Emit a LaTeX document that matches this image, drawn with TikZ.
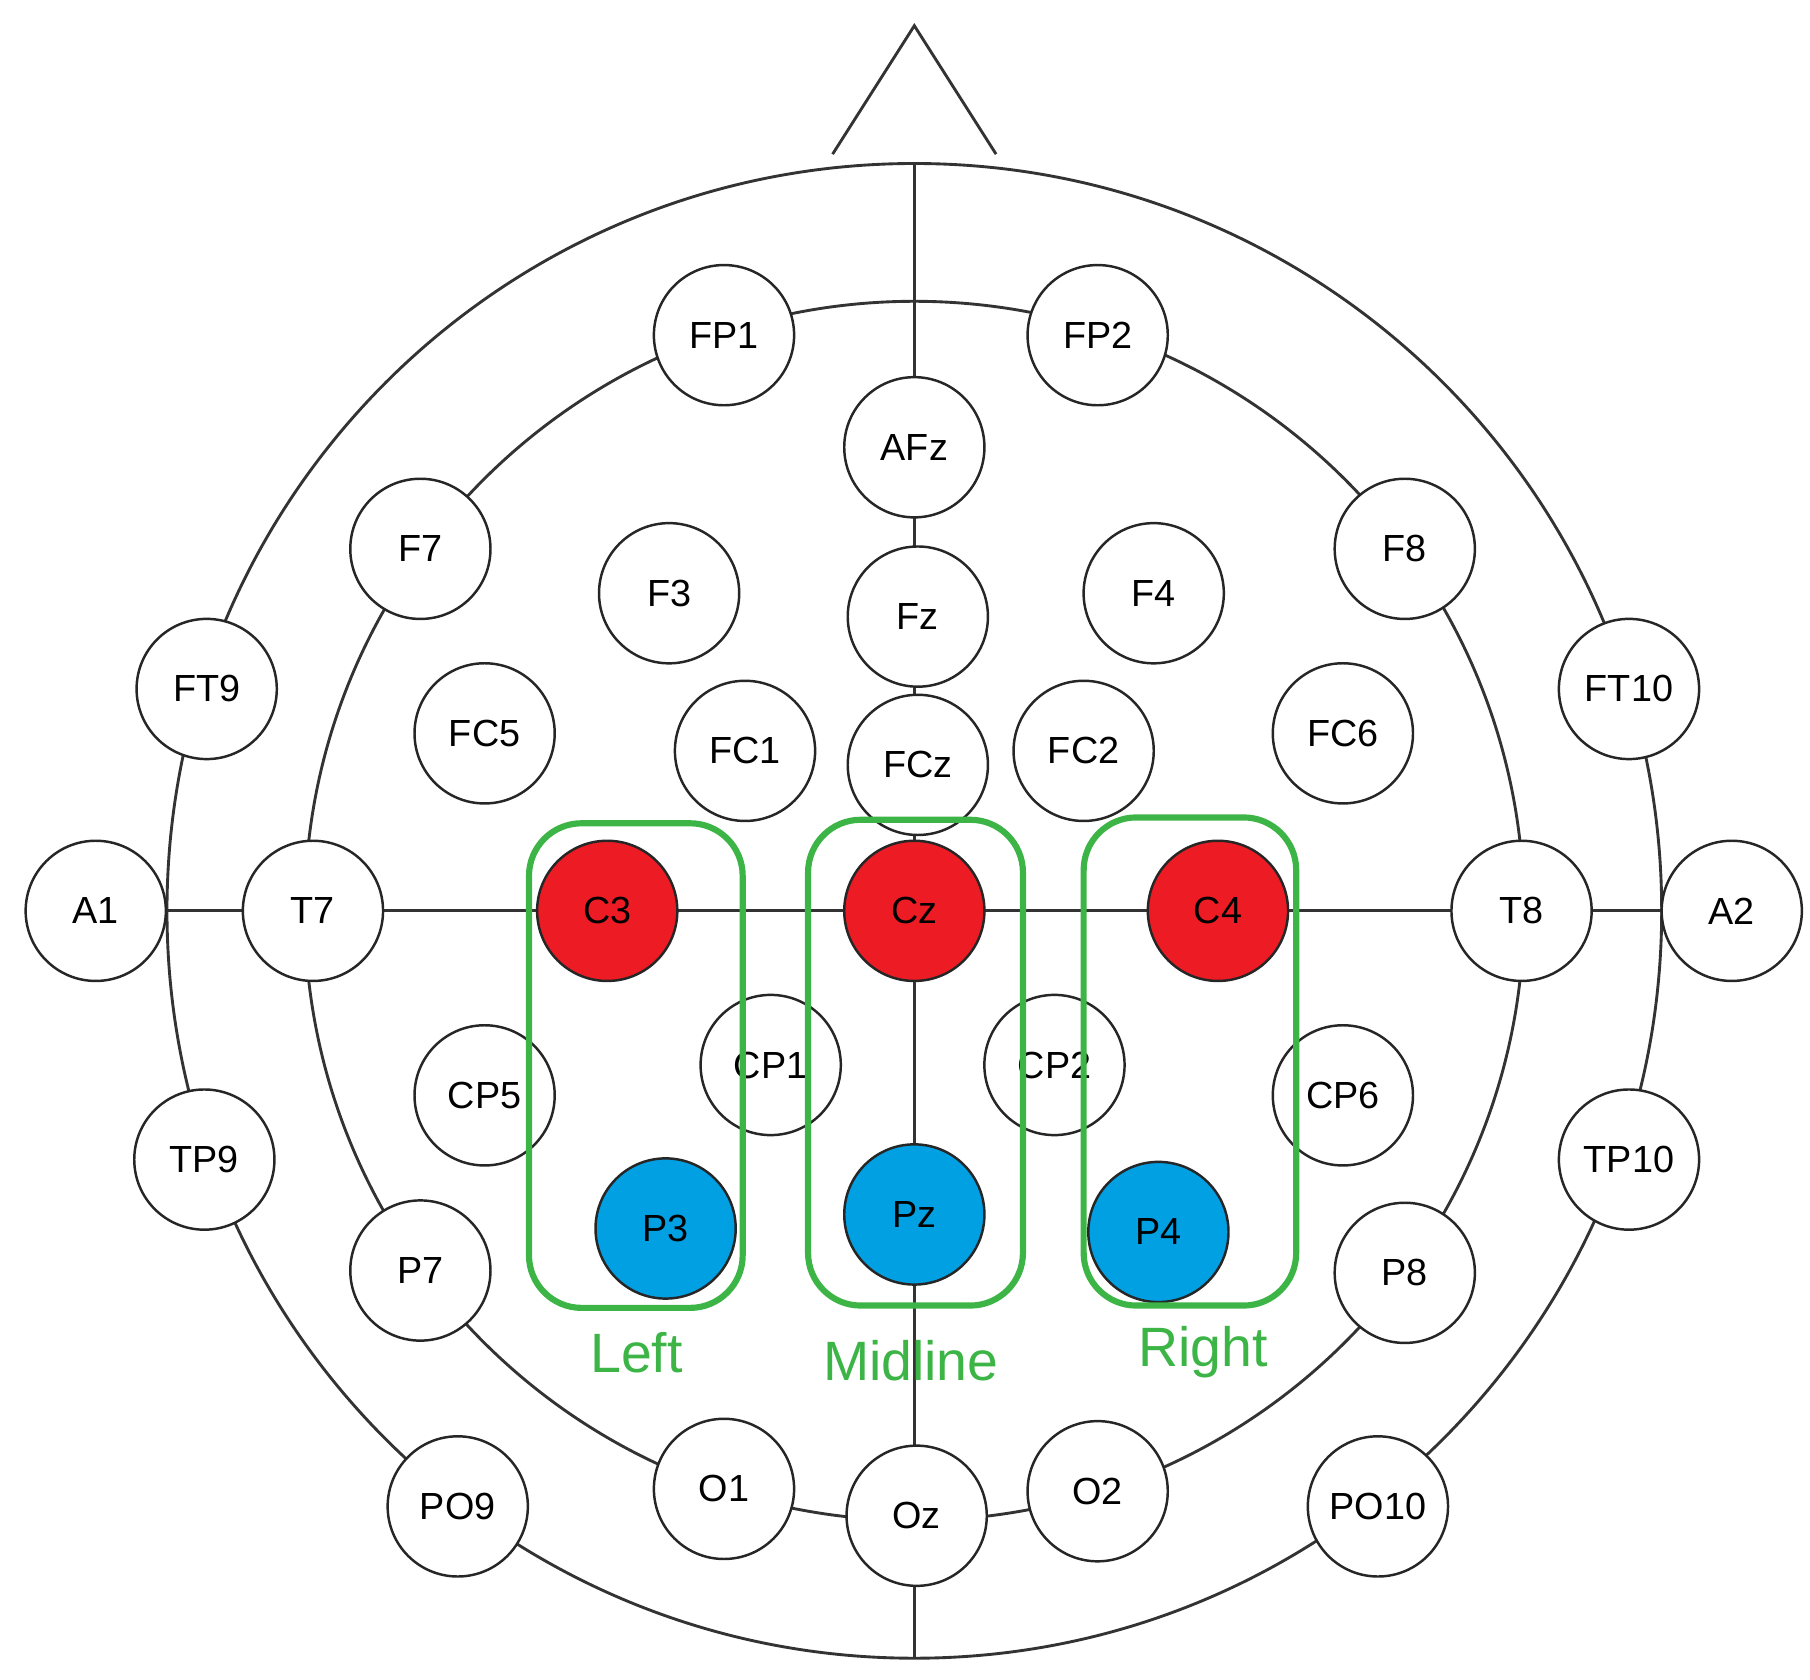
\documentclass[tikz,border=0pt]{standalone}
\usepackage{fontspec}
\setmainfont{Liberation Sans}
\begin{document}
\begin{tikzpicture}[x=0.01cm,y=-0.01cm,
  el/.style={circle,draw=black!85,line width=0.6pt,fill=white,minimum size=1.2cm,inner sep=0pt,font=\fontsize{9.2}{11}\selectfont},
  red/.style={el,fill={rgb,255:red,237;green,28;blue,36}},
  blue/.style={el,fill={rgb,255:red,0;green,160;blue,227}},
  grp/.style={draw={rgb,255:red,60;green,180;blue,70},line width=1.5pt,rounded corners=0.45cm},
  lab/.style={text={rgb,255:red,60;green,180;blue,70},font=\fontsize{13.5}{16}\selectfont},
  ln/.style={draw=black!80,line width=0.7pt}]
\useasboundingbox (0,0) rectangle (1550,1438);
\coordinate (ctr) at (783,780);
\coordinate (ntl) at (713,132);
\coordinate (ntip) at (783,22);
\coordinate (ntr) at (853,132);
\coordinate (vt) at (783,140);
\coordinate (vb) at (783,1420);
\draw[ln] (ctr) circle (640);
\draw[ln] (ctr) circle (522);
\draw[ln] (ntl) -- (ntip) -- (ntr);
\draw[ln] (vt) -- (vb);
\foreach \n/\x/\y in {FP1/620/287,FP2/940/287,AFz/783/383,F7/360/470,F3/573/508,Fz/786/528,F4/988/508,F8/1203/470,FT9/177/590,FC5/415/628,FC1/638/643,FCz/786/655,FC2/928/643,FC6/1150/628,FT10/1395/590,A1/82/780,T7/268/780,C3/520/780,Cz/783/780,C4/1043/780,T8/1303/780,A2/1483/780,CP5/415/938,CP1/660/912,CP2/903/912,CP6/1150/938,TP9/175/993,TP10/1395/993,P3/570/1052,Pz/783/1040,P4/992/1055,P7/360/1088,P8/1203/1090,PO9/392/1290,O1/620/1275,Oz/785/1298,O2/940/1277,PO10/1180/1290}
  {\coordinate (c\n) at (\x,\y);}
\draw[ln] (cA1) -- (cA2);
\foreach \n/\s in {FP1/el,FP2/el,AFz/el,F7/el,F3/el,Fz/el,F4/el,F8/el,FT9/el,FC5/el,FC1/el,FCz/el,FC2/el,FC6/el,FT10/el,A1/el,T7/el,C3/red,Cz/red,C4/red,T8/el,A2/el,CP5/el,CP1/el,CP2/el,CP6/el,TP9/el,TP10/el,P3/blue,Pz/blue,P4/blue,P7/el,P8/el,PO9/el,O1/el,Oz/el,O2/el,PO10/el}
  {\node[\s] (\n) at (c\n) {\n};}
\draw[grp] (453,705) rectangle (636,1120);
\draw[grp] (692,702) rectangle (876,1118);
\draw[grp] (928,700) rectangle (1110,1118);
\node[lab] (L) at (545,1158) {Left};
\node[lab] (M) at (780,1165) {Midline};
\node[lab] (R) at (1030,1158) {Right};
\end{tikzpicture}
\end{document}
